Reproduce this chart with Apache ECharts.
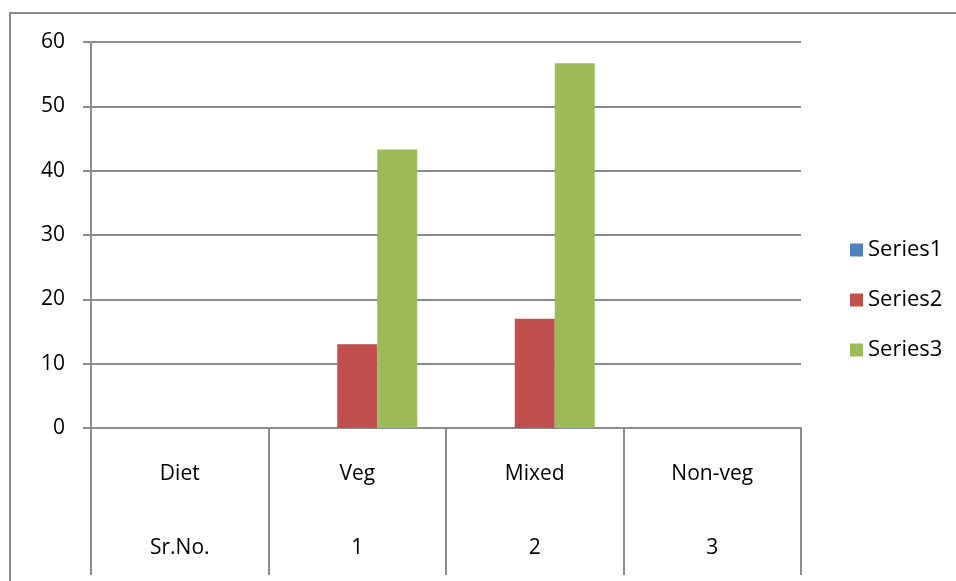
<!DOCTYPE html>
<html lang="en">
<head>
    <meta charset="utf-8"/>
    <title>Diet chart</title>
    <script src="https://cdn.jsdelivr.net/npm/echarts@6/dist/echarts.min.js"></script>
</head>
<body style="margin:0;background:#fff;">
<div id="chart" style="width:956px;height:581px;"></div>
<script type="text/javascript">
    // data
    var diets = ["Diet", "Veg", "Mixed", "Non-veg"];
    var srNos = ["Sr.No.", "1", "2", "3"];
    var series1 = [0, 0, 0, 0];
    var series2 = [null, 13, 17, null];
    var series3 = [null, 43.3, 56.7, null];
    var seriesNames = ["Series1", "Series2", "Series3"];
    var yTicks = [0, 10, 20, 30, 40, 50, 60];

    var grey = '#8c8c8c';
    var font = 'Open Sans';
    var categories = diets.map(function (d, i) { return d + '\n' + srNos[i]; });

    var chart = echarts.init(document.getElementById('chart'));
    chart.setOption({
        animation: false,
        color: ['#4F81BD', '#C0504D', '#9BBB59'],
        textStyle: {fontFamily: font},
        graphic: [{
            type: 'rect',
            shape: {x: 10, y: 13, width: 980, height: 620},
            style: {fill: 'none', stroke: grey, lineWidth: 2}
        }],
        grid: {left: 91, right: 155, top: 42, bottom: 153, outerBoundsMode: 'none', containLabel: false},
        legend: {
            orient: 'vertical',
            left: 845,
            top: 233,
            itemWidth: 13,
            itemHeight: 13,
            itemGap: 26,
            icon: 'rect',
            textStyle: {fontSize: 22, lineHeight: 24, color: '#000', fontFamily: font},
            data: seriesNames
        },
        xAxis: {
            type: 'category',
            data: categories,
            axisLine: {lineStyle: {color: grey, width: 2}},
            axisTick: {show: true, length: 147, lineStyle: {color: grey, width: 2}},
            axisLabel: {
                margin: 9,
                color: '#000',
                fontSize: 21,
                fontFamily: font,
                lineHeight: 74
            }
        },
        yAxis: {
            type: 'value',
            min: yTicks[0],
            max: yTicks[yTicks.length - 1],
            interval: 10,
            axisLine: {show: true, lineStyle: {color: grey, width: 2}},
            axisTick: {show: true, length: 8, lineStyle: {color: grey, width: 2}},
            splitLine: {lineStyle: {color: grey, width: 2}},
            axisLabel: {margin: 26, color: '#000', fontSize: 21, fontFamily: font}
        },
        series: [
            {name: seriesNames[0], type: 'bar', data: series1, barWidth: 40, barGap: 0},
            {name: seriesNames[1], type: 'bar', data: series2, barWidth: 40, barGap: 0},
            {name: seriesNames[2], type: 'bar', data: series3, barWidth: 40, barGap: 0}
        ]
    });
</script>
</body>
</html>
